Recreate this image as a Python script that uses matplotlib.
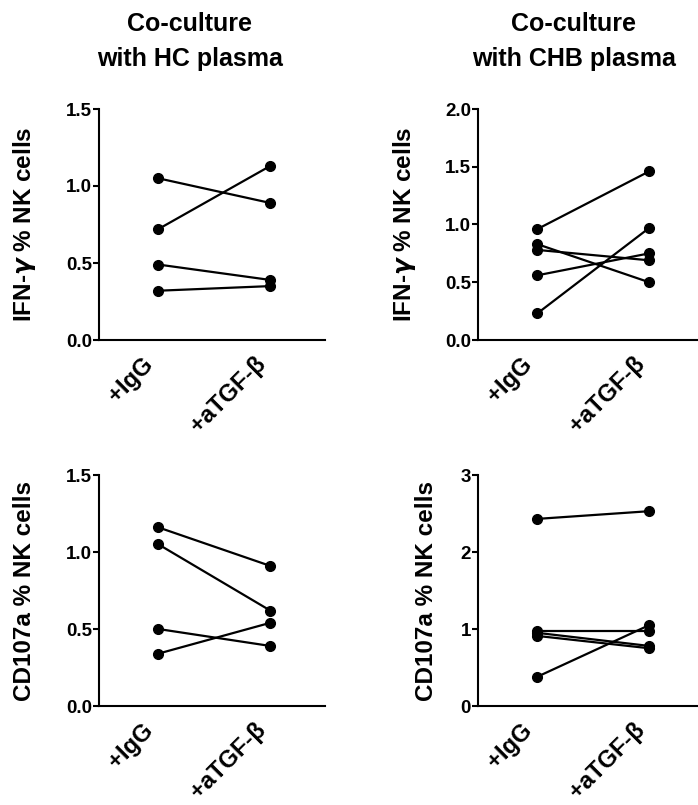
import matplotlib
matplotlib.use("Agg")
import matplotlib.pyplot as plt
from matplotlib.ticker import FormatStrFormatter
from matplotlib.transforms import ScaledTranslation

plt.rcParams["font.family"] = ["Liberation Sans", "DejaVu Sans"]
plt.rcParams["font.weight"] = "bold"

conditions = ["+IgG", "+aTGF-β"]

# paired values, one row per donor: (+IgG, +aTGF-beta)
hc_ifng = [(1.05, 0.89), (0.72, 1.13), (0.49, 0.39), (0.32, 0.35)]
chb_ifng = [(0.96, 1.46), (0.23, 0.97), (0.83, 0.50), (0.78, 0.69), (0.56, 0.75)]
hc_cd107a = [(1.16, 0.91), (1.05, 0.62), (0.50, 0.39), (0.34, 0.54)]
chb_cd107a = [(2.43, 2.53), (0.98, 0.98), (0.38, 1.05), (0.95, 0.78), (0.91, 0.75)]

ylab_ifng = r"IFN-$\mathit{\gamma}$ % NK cells"
ylab_cd107a = "CD107a % NK cells"

W, H = 698, 805
fig = plt.figure(figsize=(W / 100, H / 100), dpi=100)

panels = [
    # (data, left px, bottom px, ymax, yticks, fmt, ylabel, label x)
    (hc_ifng, 99, 340, 1.5, [0, 0.5, 1.0, 1.5], "%.1f", ylab_ifng, -0.27),
    (chb_ifng, 478, 340, 2.0, [0, 0.5, 1.0, 1.5, 2.0], "%.1f", ylab_ifng, -0.265),
    (hc_cd107a, 99, 706, 1.5, [0, 0.5, 1.0, 1.5], "%.1f", ylab_cd107a, -0.279),
    (chb_cd107a, 478, 706, 3, [0, 1, 2, 3], "%d", ylab_cd107a, -0.177),
]

shift = ScaledTranslation(7 / 100, 0, fig.dpi_scale_trans)

for data, left, bottom, ymax, yticks, fmt, ylabel, lx in panels:
    ax = fig.add_axes([left / W, 1 - bottom / H, 226 / W, 231 / H])
    for a, b in data:
        ax.plot([0, 1], [a, b], color="black", lw=1.6, marker="o",
                markersize=7, clip_on=False)
    ax.set_xlim(-0.53, 1.49)
    ax.set_ylim(0, ymax)
    ax.set_yticks(yticks)
    ax.yaxis.set_major_formatter(FormatStrFormatter(fmt))
    ax.set_xticks([0, 1])
    ax.set_xticklabels(conditions, rotation=45, ha="right",
                       fontsize=17, fontweight="bold")
    for lab in ax.get_xticklabels():
        lab.set_transform(lab.get_transform() + shift)
    ax.spines[["top", "right"]].set_visible(False)
    for s in ["left", "bottom"]:
        ax.spines[s].set_linewidth(1.5)
    ax.tick_params(axis="x", length=0, pad=9)
    ax.tick_params(axis="y", direction="out", length=4, width=1.5,
                   labelsize=13.5, pad=1)
    for lab in ax.get_yticklabels():
        lab.set_fontweight("bold")
    ax.set_ylabel(ylabel, fontsize=17.5, fontweight="bold")
    ax.yaxis.set_label_coords(lx, 0.5)

titles = [("Co-culture\nwith HC plasma", 190), ("Co-culture\nwith CHB plasma", 574)]
for text, xc in titles:
    fig.text(xc / W, 1 - 12 / H, text, ha="center", va="top",
             fontsize=18, fontweight="bold", linespacing=1.6)

fig.savefig("out.png", dpi=100)
